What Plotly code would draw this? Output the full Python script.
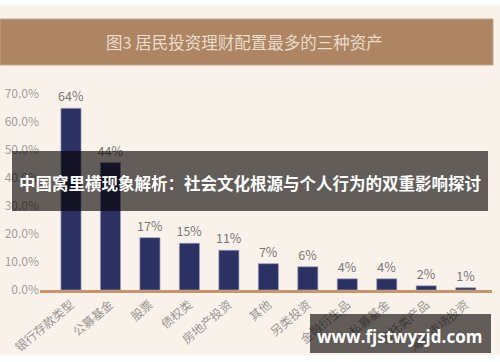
import plotly.graph_objects as go

categories = ["银行存款类型", "公募基金", "股票", "债权类", "房地产投资", "其他",
              "另类投资", "金融衍生品", "私募基金", "信托类产品", "海外市场投资"]
values = [64.9, 45.5, 18.7, 16.7, 14.2, 9.4, 8.3, 4.0, 4.0, 1.5, 0.8]
labels = ["64%", "44%", "17%", "15%", "11%", "7%", "6%", "4%", "4%", "2%", "1%"]
y_ticks = [0, 10, 20, 30, 40, 50, 60, 70]
y_tick_labels = ["0.0%", "10.0%", "20.0%", "30.0%", "40.0%", "50.0%", "60.0%", "70.0%"]

title_text = "图3 居民投资理财配置最多的三种资产"
overlay_text = "中国窝里横现象解析：社会文化根源与个人行为的双重影响探讨"
watermark = "www.fjstwyzjd.com"

W, H = 500, 362
L, R, T, B = 40, 8, 94, 72
pw = W - L - R
ph = H - T - B


def px_x(p):
    return (p - L) / pw


def px_y(p):
    return (H - B - p) / ph


cream = "#f9f2eb"
cjk = "Noto Sans CJK SC"

fig = go.Figure(go.Bar(
    x=categories, y=values, text=labels, textposition="outside", constraintext="none",
    textfont=dict(color="#7a7774", size=12.5, family=cjk),
    marker=dict(color="#2b3163", line=dict(color="rgba(160,160,190,0.7)", width=1)),
    cliponaxis=False, width=0.51,
))

shapes = [
    dict(type="rect", xref="paper", yref="paper", x0=px_x(0), x1=px_x(W), y0=px_y(0), y1=px_y(5),
         fillcolor="white", line=dict(width=0), layer="below"),
    dict(type="rect", xref="paper", yref="paper", x0=px_x(0), x1=px_x(W), y0=px_y(355), y1=px_y(H),
         fillcolor="white", line=dict(width=0), layer="below"),
    dict(type="rect", xref="paper", yref="paper", x0=px_x(0), x1=px_x(493), y0=px_y(19), y1=px_y(65),
         fillcolor="#ad8562", line=dict(width=1, color="#c9a485"), layer="below"),
    dict(type="rect", xref="paper", yref="paper", x0=px_x(12), x1=px_x(488), y0=px_y(151), y1=px_y(211),
         fillcolor="rgba(5,2,0,0.62)", line=dict(width=0), layer="above"),
    dict(type="rect", xref="paper", yref="paper", x0=px_x(310), x1=px_x(491), y0=px_y(314), y1=px_y(353),
         fillcolor="rgba(5,2,0,0.62)", line=dict(width=0), layer="above"),
]

annotations = [
    dict(text=title_text, xref="paper", yref="paper", x=px_x(244), y=px_y(42), showarrow=False,
         font=dict(family=cjk, size=16.5, color="#eadbcb"), xanchor="center", yanchor="middle"),
    dict(text="<b>" + overlay_text + "</b>", xref="paper", yref="paper", x=px_x(250), y=px_y(183),
         showarrow=False, font=dict(family=cjk, size=16.5, color="white"), xanchor="center", yanchor="middle"),
    dict(text="<b>" + watermark + "</b>", xref="paper", yref="paper", x=px_x(399), y=px_y(336),
         showarrow=False, font=dict(family="Open Sans", size=17, color="white"), xanchor="center", yanchor="middle"),
]

fig.update_layout(
    width=W, height=H,
    margin=dict(l=L, r=R, t=T, b=B, pad=0, autoexpand=False),
    paper_bgcolor=cream, plot_bgcolor=cream,
    showlegend=False,
    shapes=shapes, annotations=annotations,
    xaxis=dict(range=[-0.785, 10.666], showgrid=False, showline=True, linecolor="#c8956a", linewidth=3,
               ticks="", tickangle=-40, automargin=False,
               tickfont=dict(family=cjk, size=12, color="#9a9592"), fixedrange=True),
    yaxis=dict(range=[0, 70], tickvals=y_ticks, ticktext=y_tick_labels, showgrid=False, automargin=False,
               zeroline=False, showline=False, ticks="", fixedrange=True,
               tickfont=dict(family=cjk, size=12, color="#a39e9a")),
)

fig.write_html("out.html", config={"displayModeBar": False},
               post_script="document.body.style.margin='0';document.body.style.overflow='hidden';")
